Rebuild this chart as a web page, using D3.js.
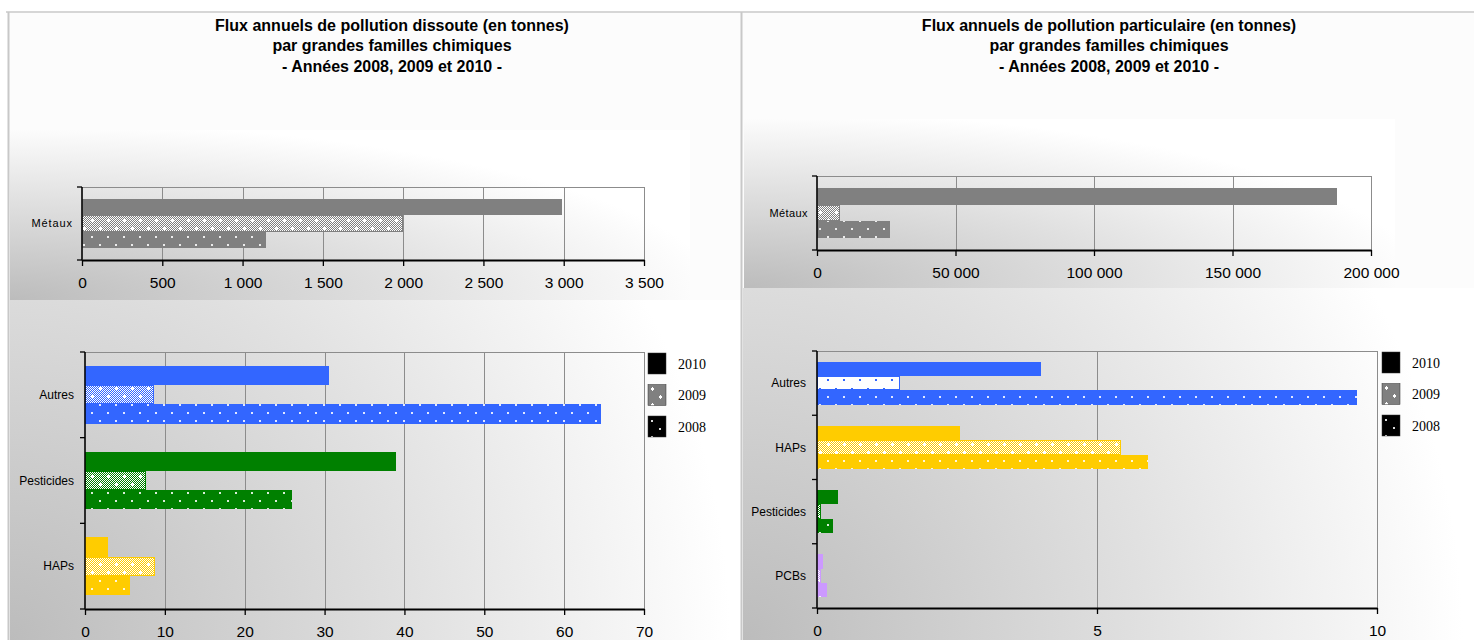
<!DOCTYPE html>
<html>
<head>
<meta charset="utf-8">
<script src="https://cdn.jsdelivr.net/npm/d3@7"></script>
<style>
  html, body { margin: 0; padding: 0; background: #ffffff; }
  svg { display: block; }
</style>
</head>
<body>
<svg id="chart" width="1474" height="640"></svg>
<script>
// ---- Data: annual pollution flows (tonnes) ----
const years = ["2010", "2009", "2008"];

// Dissolved pollution — metals
const metauxCategory = ["Métaux"];
const dissoutMetaux2010 = [2990];
const dissoutMetaux2009 = [2000];
const dissoutMetaux2008 = [1145];
const dissoutMetauxTicks = [0, 500, 1000, 1500, 2000, 2500, 3000, 3500];

// Dissolved pollution — other families
const dissoutCategories = ["Autres", "Pesticides", "HAPs"];
const dissout2010 = [30.6, 38.9, 2.9];
const dissout2009 = [8.6, 7.6, 8.8];
const dissout2008 = [64.6, 25.9, 5.6];
const dissoutTicks = [0, 10, 20, 30, 40, 50, 60, 70];

// Particulate pollution — metals
const particMetaux2010 = [187800];
const particMetaux2009 = [8400];
const particMetaux2008 = [26200];
const particMetauxTicks = [0, 50000, 100000, 150000, 200000];

// Particulate pollution — other families
const particCategories = ["Autres", "HAPs", "Pesticides", "PCBs"];
const partic2010 = [4.0, 2.55, 0.38, 0.10];
const partic2009 = [1.49, 5.42, 0.08, 0.07];
const partic2008 = [9.64, 5.91, 0.29, 0.18];
const particTicks = [0, 5, 10];

// Family colours
const familyColors = {
  "Métaux": "#808080",
  "Autres": "#3366ff",
  "Pesticides": "#008000",
  "HAPs": "#ffcc00",
  "PCBs": "#cc99ff",
  "legend": "#000000"
};

const titleDissout = [
  "Flux annuels de pollution dissoute (en tonnes)",
  "par grandes familles chimiques",
  "- Années 2008, 2009 et 2010 -"
];
const titlePartic = [
  "Flux annuels de pollution particulaire (en tonnes)",
  "par grandes familles chimiques",
  "- Années 2008, 2009 et 2010 -"
];

const SANS = "Arial, 'Liberation Sans', sans-serif";
const SERIF = "'Times New Roman', 'Liberation Serif', serif";

const frLocale = d3.formatLocale({ decimal: ",", thousands: " ", grouping: [3], currency: ["", " €"] });
const fmtInt = frLocale.format(",d");

const svg = d3.select("#chart");
const defs = svg.append("defs");

// ---- Fill patterns ----
const keyOf = name => name.normalize("NFD").replace(/[^A-Za-z]/g, "");

function makePatterns(name, color) {
  const k = keyOf(name);
  // fine checkerboard of colour and white
  const chk = defs.append("pattern").attr("id", "chk-" + k)
    .attr("patternUnits", "userSpaceOnUse").attr("width", 2).attr("height", 2);
  chk.append("rect").attr("width", 2).attr("height", 2).attr("fill", color);
  chk.append("rect").attr("x", 0).attr("y", 0).attr("width", 1).attr("height", 1).attr("fill", "#ffffff");
  chk.append("rect").attr("x", 1).attr("y", 1).attr("width", 1).attr("height", 1).attr("fill", "#ffffff");

  // 2009: checkerboard with small white crosses
  const p9 = defs.append("pattern").attr("id", "p09-" + k)
    .attr("patternUnits", "userSpaceOnUse").attr("width", 16).attr("height", 16);
  p9.append("rect").attr("width", 16).attr("height", 16).attr("fill", "url(#chk-" + k + ")");
  [[4, 4], [12, 12]].forEach(([cx, cy]) => {
    p9.append("rect").attr("x", cx - 2).attr("y", cy).attr("width", 5).attr("height", 1).attr("fill", "#ffffff");
    p9.append("rect").attr("x", cx).attr("y", cy - 2).attr("width", 1).attr("height", 5).attr("fill", "#ffffff");
  });

  // 2008: solid colour with a staggered grid of white dots
  const p8 = defs.append("pattern").attr("id", "p08-" + k)
    .attr("patternUnits", "userSpaceOnUse").attr("width", 16).attr("height", 16);
  p8.append("rect").attr("width", 16).attr("height", 16).attr("fill", color);
  [[3, 4], [11, 12]].forEach(([cx, cy]) => {
    p8.append("rect").attr("x", cx).attr("y", cy).attr("width", 2).attr("height", 2)
      .attr("fill", "#ffffff").attr("fill-opacity", 0.85);
  });

  // white ground with coloured dots
  const pw = defs.append("pattern").attr("id", "pw-" + k)
    .attr("patternUnits", "userSpaceOnUse").attr("width", 16).attr("height", 16);
  pw.append("rect").attr("width", 16).attr("height", 16).attr("fill", "#ffffff");
  [[3, 4], [11, 11]].forEach(([cx, cy]) => {
    pw.append("rect").attr("x", cx).attr("y", cy).attr("width", 2).attr("height", 2).attr("fill", color);
  });
}
Object.entries(familyColors).forEach(([n, c]) => makePatterns(n, c));

// ---- Background shading ----
function cornerGradientBox(id, x, y, w, h, r) {
  const gr = defs.append("radialGradient").attr("id", id);
  if (r) {
    gr.attr("gradientUnits", "userSpaceOnUse").attr("cx", x).attr("cy", y + h).attr("r", r)
      .attr("fx", x).attr("fy", y + h);
  } else {
    gr.attr("cx", 0).attr("cy", 1).attr("r", 1.05).attr("fx", 0).attr("fy", 1);
  }
  gr.append("stop").attr("offset", 0).attr("stop-color", "#bcbcbc");
  gr.append("stop").attr("offset", 0.55).attr("stop-color", "#e0e0e0");
  gr.append("stop").attr("offset", 1).attr("stop-color", "#ffffff");
  svg.append("rect").attr("x", x).attr("y", y).attr("width", w).attr("height", h)
    .attr("fill", "url(#" + id + ")");
}

svg.append("rect").attr("width", 1474).attr("height", 640).attr("fill", "#ffffff");
svg.append("rect").attr("x", 9).attr("y", 13).attr("width", 1465).attr("height", 627).attr("fill", "#fcfcfc");
cornerGradientBox("bgDissTop", 10, 130, 680, 170, null);
cornerGradientBox("bgDissBottom", 10, 300, 731, 340, 720);
cornerGradientBox("bgPartTop", 744, 119, 651, 169, null);
cornerGradientBox("bgPartBottom", 743, 288, 731, 352, 720);

// Frame lines
svg.append("line").attr("x1", 6).attr("x2", 1474).attr("y1", 12).attr("y2", 12)
  .attr("stroke", "#c8c8c8").attr("stroke-width", 1.5);
svg.append("line").attr("x1", 8.5).attr("x2", 8.5).attr("y1", 12).attr("y2", 640)
  .attr("stroke", "#c8c8c8").attr("stroke-width", 2);
svg.append("line").attr("x1", 741.5).attr("x2", 741.5).attr("y1", 12).attr("y2", 640)
  .attr("stroke", "#c8c8c8").attr("stroke-width", 2);

// ---- Titles ----
function drawTitle(lines, cx) {
  svg.append("g").selectAll("text").data(lines).join("text")
    .attr("x", cx).attr("y", (d, i) => 30.5 + i * 20.5)
    .attr("text-anchor", "middle")
    .attr("font-family", SANS).attr("font-weight", "bold").attr("font-size", 16)
    .attr("fill", "#000").text(d => d);
}
drawTitle(titleDissout, 392);
drawTitle(titlePartic, 1109);

// ---- Horizontal grouped bar panel ----
function drawPanel(opt) {
  const g = svg.append("g");
  const x = d3.scaleLinear().domain([0, d3.max(opt.ticks)]).range([opt.left, opt.right]);
  const y = d3.scaleBand().domain(opt.categories).range([opt.top, opt.bottom])
    .paddingInner(0.33).paddingOuter(0.165);
  const yy = d3.scaleBand().domain(years).range([0, y.bandwidth()]);

  // vertical gridlines
  g.append("g").selectAll("line").data(opt.ticks.slice(1)).join("line")
    .attr("x1", d => Math.round(x(d)) + 0.5).attr("x2", d => Math.round(x(d)) + 0.5)
    .attr("y1", opt.top).attr("y2", opt.bottom)
    .attr("stroke", "#8c8c8c").attr("stroke-width", 1);
  // plot frame
  g.append("rect").attr("x", opt.left).attr("y", opt.top + 0.5)
    .attr("width", opt.right - opt.left + 0.5).attr("height", opt.bottom - opt.top)
    .attr("fill", "none").attr("stroke", "#8c8c8c").attr("stroke-width", 1);

  const rows = [];
  opt.categories.forEach((c, i) => years.forEach(yr => {
    rows.push({ cat: c, year: yr, value: opt.values[yr][i] });
  }));

  g.append("g").selectAll("rect").data(rows).join("rect")
    .attr("x", x(0))
    .attr("y", d => y(d.cat) + yy(d.year) + (d.year === "2009" ? 0.5 : 0))
    .attr("width", d => Math.max(0, x(d.value) - x(0) - (d.year === "2009" ? 0.5 : 0)))
    .attr("height", d => yy.bandwidth() - (d.year === "2009" ? 1 : 0))
    .attr("fill", d => {
      const k = keyOf(d.cat);
      if (d.year === "2010") return familyColors[d.cat];
      if (d.year === "2009") return "url(#" + ((opt.plain2009 || []).includes(d.cat) ? "pw-" : "p09-") + k + ")";
      return "url(#p08-" + k + ")";
    })
    .attr("stroke", d => d.year === "2009" ? familyColors[d.cat] : "none")
    .attr("stroke-width", 1)
    .attr("shape-rendering", "crispEdges");

  // bottom axis
  const ax = d3.axisBottom(x).tickValues(opt.ticks).tickFormat(opt.format)
    .tickSize(6).tickPadding(11).tickSizeOuter(0);
  const axg = g.append("g").attr("transform", `translate(0,${opt.bottom})`).call(ax);
  axg.select(".domain").attr("stroke", "#000").attr("stroke-width", 2);
  axg.selectAll(".tick line").attr("stroke", "#000").attr("stroke-width", 1.3);
  axg.selectAll(".tick text").attr("font-family", SANS).attr("font-size", 15.5).attr("fill", "#000");

  // category axis
  g.append("line").attr("x1", opt.left).attr("x2", opt.left).attr("y1", opt.top).attr("y2", opt.bottom)
    .attr("stroke", "#000").attr("stroke-width", 1.5);
  g.append("g").selectAll("line").data(d3.range(opt.categories.length + 1)).join("line")
    .attr("x1", opt.left - 5).attr("x2", opt.left)
    .attr("y1", i => opt.top + i * y.step()).attr("y2", i => opt.top + i * y.step())
    .attr("stroke", "#000").attr("stroke-width", 1.3);
  g.append("g").selectAll("text").data(opt.categories).join("text")
    .attr("x", opt.left - opt.labelGap)
    .attr("y", d => y(d) + y.bandwidth() / 2)
    .attr("dy", "0.35em")
    .attr("text-anchor", "end")
    .attr("font-family", SANS).attr("font-size", opt.labelSize)
    .attr("letter-spacing", opt.labelSpacing || 0)
    .attr("fill", "#000").text(d => d);

  if (opt.legend) {
    const lg = g.append("g").attr("transform", `translate(${opt.legend[0]},${opt.legend[1]})`);
    const fills = { "2010": familyColors.legend, "2009": "url(#p09-legend)", "2008": "url(#p08-legend)" };
    const item = lg.selectAll("g").data(years).join("g")
      .attr("transform", (d, i) => `translate(0,${i * 31.5})`);
    item.append("rect").attr("width", 18).attr("height", 21)
      .attr("fill", d => fills[d]).attr("stroke", "#333").attr("stroke-width", 0.5);
    item.append("text").attr("x", 30).attr("y", 15.5)
      .attr("font-family", SERIF).attr("font-size", 14).attr("fill", "#000").text(d => d);
  }
}

// Dissolved — metals
drawPanel({
  categories: metauxCategory,
  values: { "2010": dissoutMetaux2010, "2009": dissoutMetaux2009, "2008": dissoutMetaux2008 },
  ticks: dissoutMetauxTicks, format: fmtInt,
  left: 82, right: 644, top: 187, bottom: 260,
  labelSize: 11, labelGap: 9, labelSpacing: 0.9
});

// Dissolved — other families
drawPanel({
  categories: dissoutCategories,
  values: { "2010": dissout2010, "2009": dissout2009, "2008": dissout2008 },
  ticks: dissoutTicks, format: fmtInt,
  left: 85, right: 644, top: 352, bottom: 609,
  labelSize: 12, labelGap: 11,
  legend: [648, 353]
});

// Particulate — metals
drawPanel({
  categories: metauxCategory,
  values: { "2010": particMetaux2010, "2009": particMetaux2009, "2008": particMetaux2008 },
  ticks: particMetauxTicks, format: fmtInt,
  left: 817, right: 1371, top: 176, bottom: 250,
  labelSize: 11, labelGap: 9, labelSpacing: 0.4
});

// Particulate — other families
drawPanel({
  categories: particCategories,
  values: { "2010": partic2010, "2009": partic2009, "2008": partic2008 },
  ticks: particTicks, format: fmtInt,
  left: 817, right: 1377, top: 351, bottom: 608,
  labelSize: 12, labelGap: 11,
  plain2009: ["Autres"],
  legend: [1382, 352]
});
</script>
</body>
</html>
